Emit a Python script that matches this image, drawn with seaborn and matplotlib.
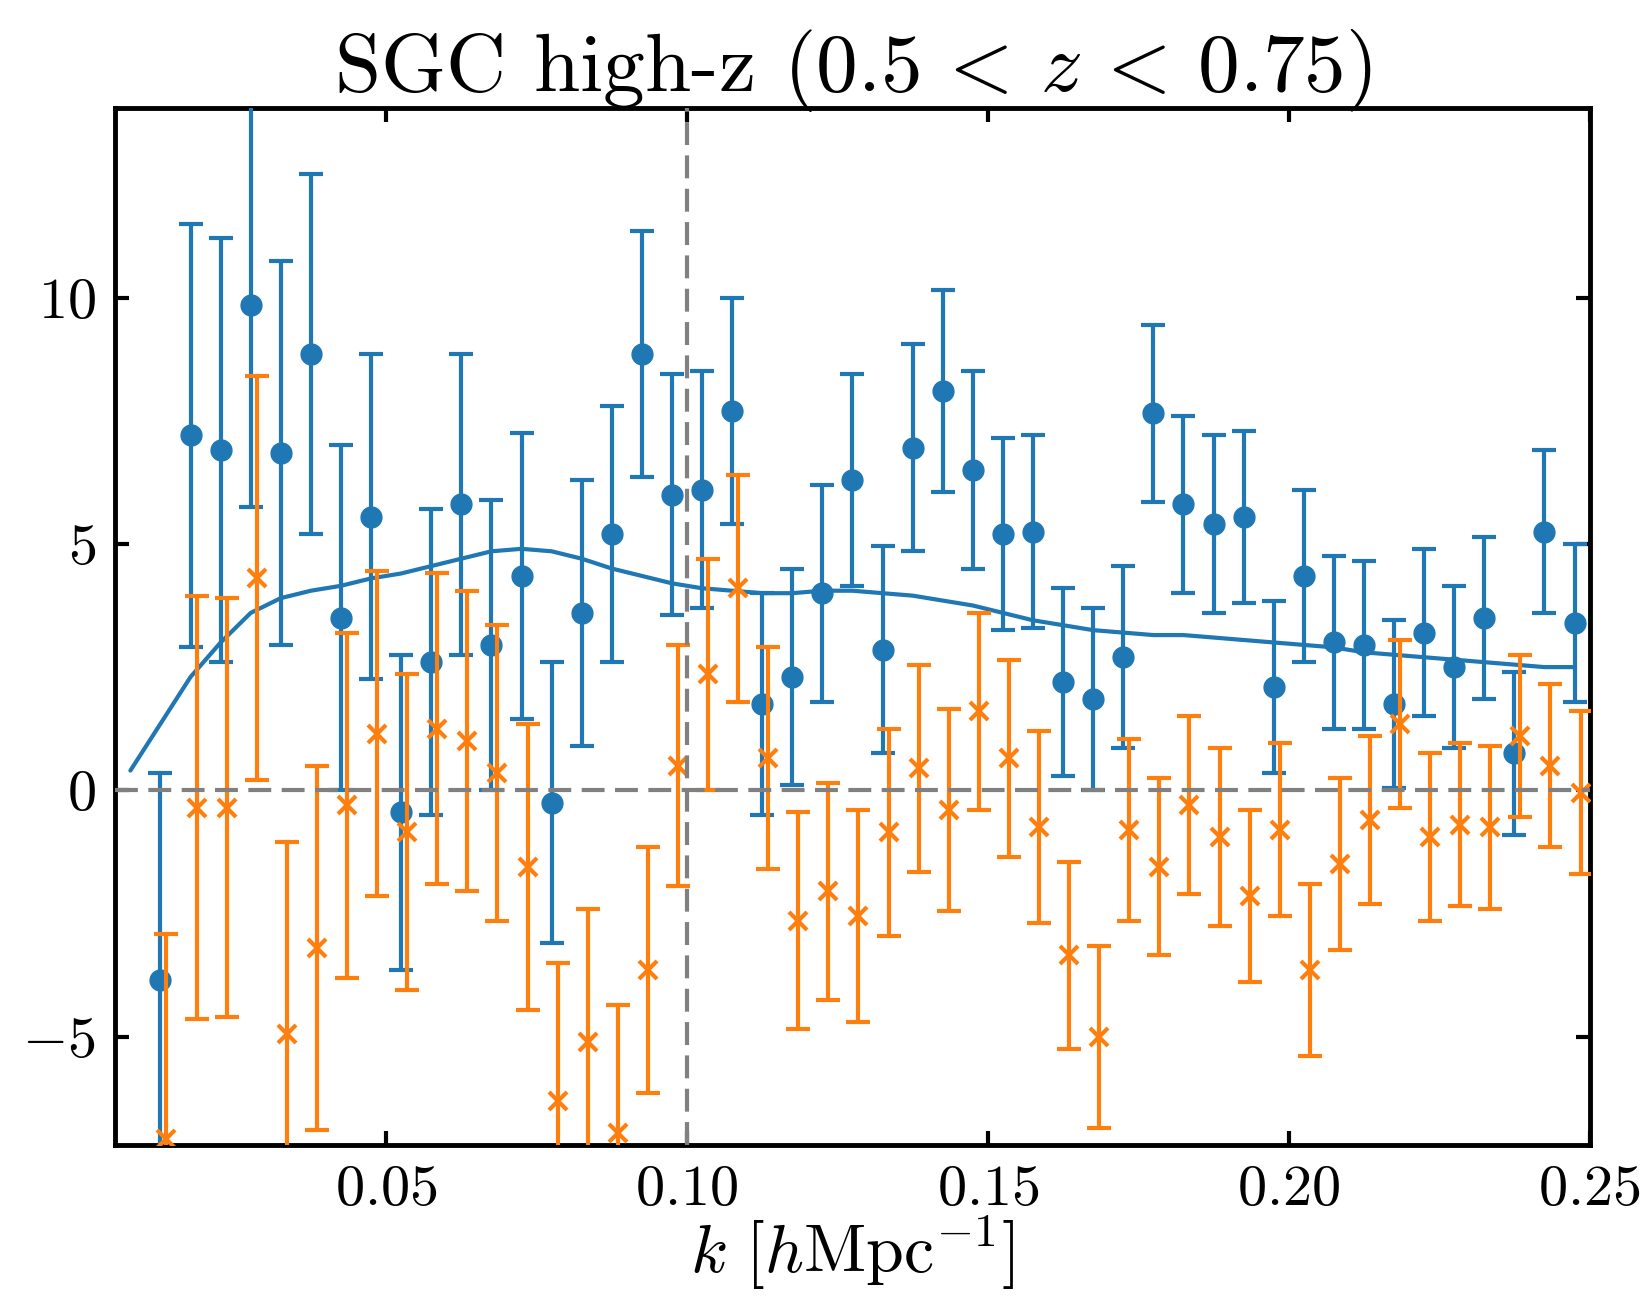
import numpy as np
import pandas as pd
import matplotlib
matplotlib.use("Agg")
import matplotlib.pyplot as plt
import seaborn as sns

# data
k_data = [0.0125 + 0.005 * i for i in range(48)]

blue_y = [-3.85, 7.2, 6.9, 9.85, 6.85, 8.85, 3.5, 5.55, -0.45, 2.6,
          5.8, 2.95, 4.35, -0.25, 3.6, 5.2, 8.85, 6.0, 6.1, 7.7,
          1.75, 2.3, 4.0, 6.3, 2.85, 6.95, 8.1, 6.5, 5.2, 5.25,
          2.2, 1.85, 2.7, 7.65, 5.8, 5.4, 5.55, 2.1, 4.35, 3.0,
          2.95, 1.75, 3.2, 2.5, 3.5, 0.75, 5.25, 3.4]
blue_err = [4.2, 4.3, 4.3, 4.1, 3.9, 3.65, 3.5, 3.3, 3.2, 3.1,
            3.05, 2.95, 2.9, 2.85, 2.7, 2.6, 2.5, 2.45, 2.4, 2.3,
            2.25, 2.2, 2.2, 2.15, 2.1, 2.1, 2.05, 2.0, 1.95, 1.95,
            1.9, 1.85, 1.85, 1.8, 1.8, 1.8, 1.75, 1.75, 1.75, 1.75,
            1.7, 1.7, 1.7, 1.65, 1.65, 1.65, 1.65, 1.6]

orange_y = [-7.07, -0.35, -0.35, 4.3, -4.95, -3.2, -0.3, 1.15, -0.85, 1.25,
            1.0, 0.35, -1.55, -6.3, -5.1, -6.95, -3.65, 0.5, 2.35, 4.1,
            0.65, -2.65, -2.05, -2.55, -0.85, 0.45, -0.4, 1.6, 0.65, -0.75,
            -3.35, -5.0, -0.8, -1.55, -0.3, -0.95, -2.15, -0.8, -3.65, -1.5,
            -0.6, 1.35, -0.95, -0.7, -0.75, 1.1, 0.5, -0.05]
orange_err = [4.15, 4.3, 4.25, 4.1, 3.9, 3.7, 3.5, 3.3, 3.2, 3.15,
              3.05, 3.0, 2.9, 2.8, 2.7, 2.6, 2.5, 2.45, 2.35, 2.3,
              2.25, 2.2, 2.2, 2.15, 2.1, 2.1, 2.05, 2.0, 2.0, 1.95,
              1.9, 1.85, 1.85, 1.8, 1.8, 1.8, 1.75, 1.75, 1.75, 1.75,
              1.7, 1.7, 1.7, 1.65, 1.65, 1.65, 1.65, 1.65]
k_shift = 0.001

k_model = [0.0075 + 0.005 * i for i in range(49)]
model_y = [0.4, 1.35, 2.3, 3.0, 3.6, 3.9, 4.05, 4.15, 4.3, 4.4,
           4.55, 4.7, 4.85, 4.9, 4.85, 4.7, 4.5, 4.35, 4.2, 4.1,
           4.05, 4.0, 4.0, 4.05, 4.05, 4.0, 3.95, 3.85, 3.75, 3.6,
           3.45, 3.35, 3.25, 3.2, 3.15, 3.15, 3.1, 3.05, 3.0, 2.95,
           2.9, 2.8, 2.75, 2.7, 2.65, 2.6, 2.55, 2.5, 2.5]

xticks = [0.05, 0.10, 0.15, 0.20, 0.25]
yticks = [-5, 0, 5, 10]

sns.set_style("ticks")
plt.rcParams["font.family"] = "serif"
plt.rcParams["font.serif"] = ["cmr10"]
plt.rcParams["mathtext.fontset"] = "cm"
plt.rcParams["axes.formatter.use_mathtext"] = True
for key in ["axes.edgecolor", "xtick.color", "ytick.color", "text.color",
            "axes.labelcolor"]:
    plt.rcParams[key] = "black"

blue = "#1f77b4"
orange = "#ff7f0e"

fig = plt.figure(figsize=(16.43, 12.99), dpi=100)
ax = fig.add_axes([0.0702, 0.1185, 0.8973, 0.7985])

model = pd.DataFrame({"k": k_model, "P": model_y})
sns.lineplot(data=model, x="k", y="P", color=blue, lw=3, ax=ax, zorder=3)

ax.errorbar(k_data, blue_y, yerr=blue_err, fmt="o", color=blue, ms=15,
            elinewidth=3, capsize=8.5, capthick=3, zorder=4)
ax.errorbar(np.array(k_data) + k_shift, orange_y, yerr=orange_err, fmt="x",
            color=orange, ms=13, mew=3, elinewidth=3, capsize=8.5,
            capthick=3, zorder=5)

ax.axhline(0, color="grey", lw=3, dashes=(5.5, 2.5), zorder=6)
ax.axvline(0.1, color="grey", lw=3, dashes=(5.5, 2.5), zorder=6)

ax.set_xlim(0.005, 0.25)
ax.set_ylim(-7.2, 13.85)
ax.set_xticks(xticks)
ax.set_xticklabels([f"${t:.2f}$" for t in xticks])
ax.set_yticks(yticks)
ax.set_yticklabels([f"${t}$" for t in yticks])
ax.tick_params(direction="in", top=True, right=True, length=10, width=3,
               labelsize=42, pad=14)
for s in ax.spines.values():
    s.set_linewidth(3.5)

ax.set_xlabel(r"$k\ [h\mathrm{Mpc}^{-1}]$", fontsize=49, labelpad=-2)
ax.set_ylabel("")
ax.set_title(r"SGC high-z $(0.5\,<\,z\,<\,0.75)$", fontsize=60, pad=12)

fig.savefig("out.png", dpi=100)
